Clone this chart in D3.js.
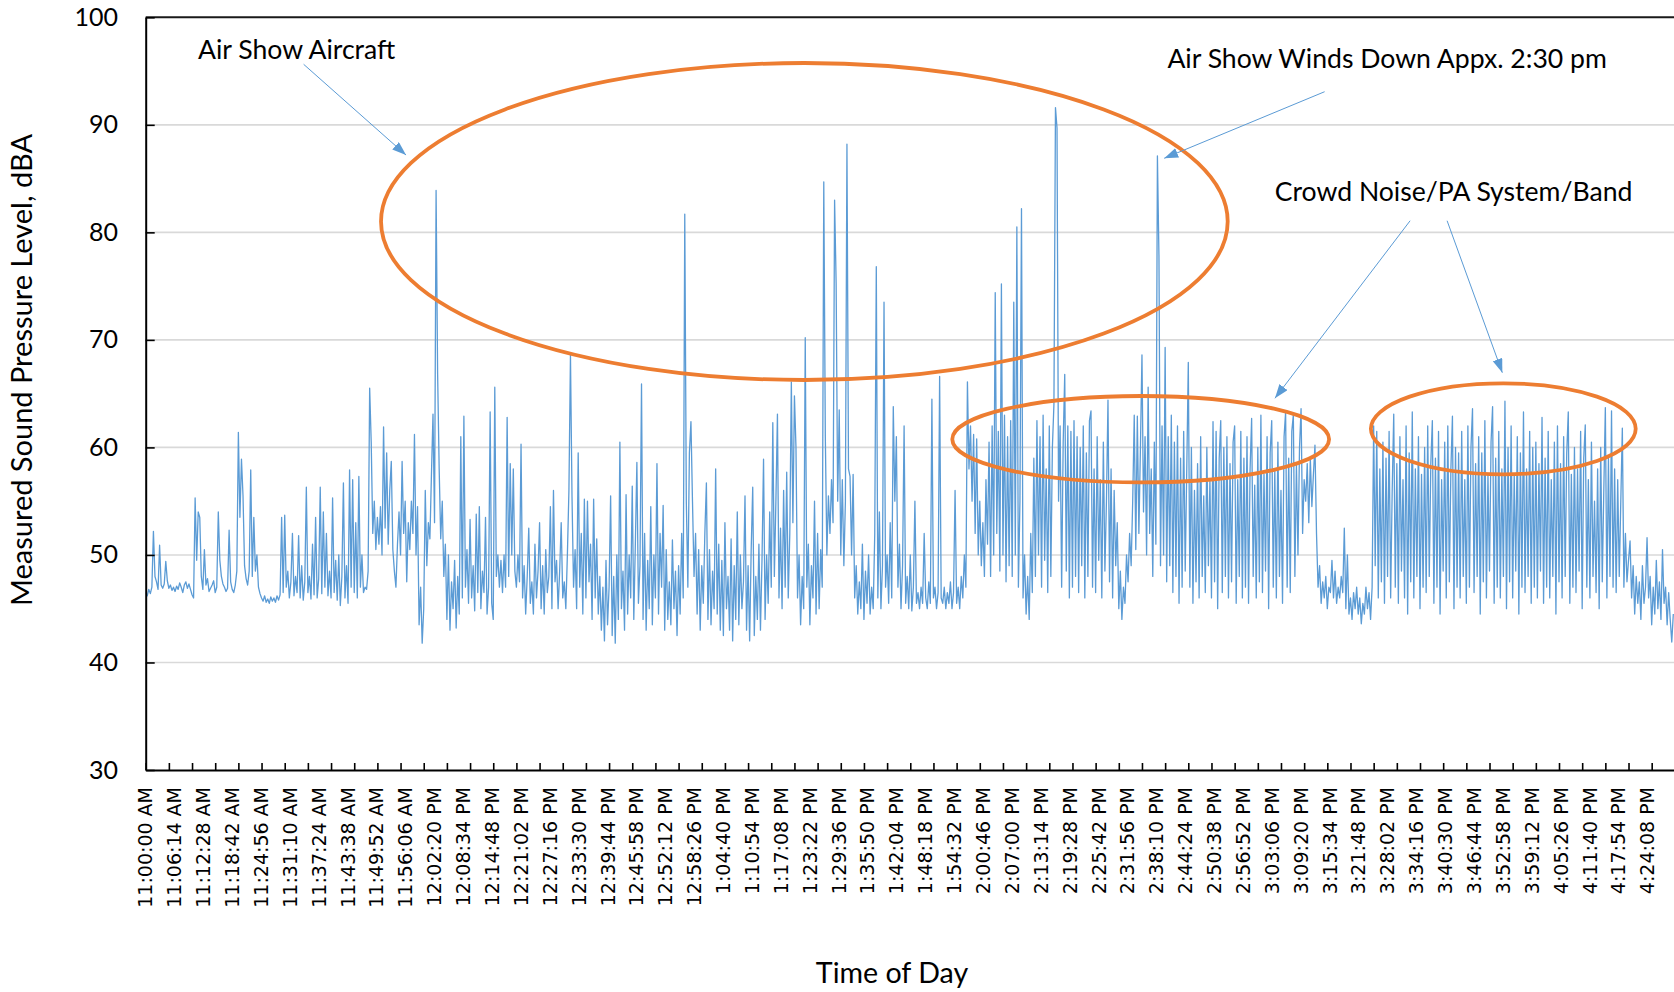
<!DOCTYPE html>
<html>
<head>
<meta charset="utf-8">
<script src="https://cdn.jsdelivr.net/npm/d3@7"></script>
<style>
  body { margin: 0; background: #fff; }
  svg { display: block; }
</style>
</head>
<body>
<svg></svg>
<script>
// readings every 20 s from 11:00:00 AM (dBA)
let startTime = '11:00:00 AM'
let endTime = '4:30:00 PM'
let stepSeconds = 20
let levels = [
  46.5,46.2,46.8,46.4,47.0,52.2,48.0,47.5,46.8,50.9, 47.2,46.9,47.3,49.4,47.6,46.9,47.2,46.7,47.0,46.6, 47.1,46.8,47.4,47.0,46.5,47.2,47.5,46.9,47.3,46.8, 46.3,46.0,55.3,49.5,54.0,53.5,48.0,46.8,50.5,47.2, 47.8,46.6,46.9,47.2,47.6,46.5,47.0,54.0,49.5,48.0,
  47.3,47.0,46.6,46.9,52.3,47.5,46.8,46.5,47.2,48.5, 61.4,53.5,58.9,55.5,49.0,47.8,47.2,48.5,57.9,48.0, 53.5,48.5,50.0,47.0,46.4,46.0,45.7,46.2,45.6,45.9, 45.5,46.1,45.7,46.0,45.6,46.2,45.8,46.3,53.5,46.5, 53.7,47.0,48.5,46.0,47.5,52.0,46.2,48.0,46.5,51.8,
  46.0,49.0,45.8,47.5,56.3,46.5,48.0,45.9,51.0,46.3, 53.5,46.0,47.8,56.3,46.4,54.0,47.0,52.0,46.2,48.5, 46.0,55.3,46.5,49.5,45.8,50.0,45.3,48.0,56.7,46.0, 49.0,45.5,57.9,47.0,57.0,46.5,53.0,46.0,57.3,47.0, 50.0,46.5,47.0,46.8,48.5,65.5,60.5,52.0,55.0,50.5,
  53.5,51.0,54.5,50.0,61.9,52.5,59.5,51.0,56.0,58.7, 50.5,48.5,47.0,51.0,54.0,50.0,58.7,52.0,55.0,47.5, 53.0,50.5,55.0,52.0,61.2,50.0,54.5,43.5,47.0,41.8, 45.0,56.0,49.0,53.0,51.5,57.5,63.1,53.0,83.9,66.8, 58.0,51.5,55.0,48.0,51.0,44.0,50.0,43.0,47.5,45.0,
  49.5,43.2,48.0,44.5,61.0,46.0,62.9,47.0,50.5,45.5, 53.3,46.0,49.0,44.8,53.8,46.5,54.5,45.0,48.5,46.5, 53.5,44.5,47.0,63.3,45.5,44.0,65.6,48.0,50.0,47.0, 49.5,46.5,50.0,47.0,62.8,48.0,58.5,50.0,58.0,48.5, 47.0,50.0,47.5,60.3,46.0,49.0,44.5,48.0,52.5,45.5,
  47.5,44.5,51.0,46.0,48.5,53.0,45.0,49.0,44.5,50.5, 46.5,48.0,54.5,45.0,56.0,47.5,49.5,45.0,48.5,53.0, 46.0,47.5,45.0,50.0,56.0,68.6,55.4,47.0,50.5,45.0, 59.5,47.0,52.0,44.5,55.2,46.0,55.0,47.5,51.0,44.0, 55.2,46.0,51.5,44.5,48.0,43.0,47.0,42.0,49.5,43.5,
  47.0,55.5,42.5,48.0,41.8,50.0,44.0,60.5,45.0,48.5, 43.0,55.6,44.5,50.0,46.0,56.4,44.0,51.0,58.6,45.5, 49.0,65.9,44.0,52.0,43.0,49.5,45.0,54.5,43.5,50.0, 46.0,58.5,44.5,52.0,47.0,54.6,43.0,50.5,44.0,47.5, 43.5,51.4,45.0,48.5,42.5,49.0,44.5,52.0,46.0,81.7,
  55.0,47.0,59.5,62.4,55.0,48.0,52.0,44.5,50.5,43.0, 49.0,45.5,52.0,56.7,44.0,50.5,43.5,48.5,45.0,58.0, 44.5,51.0,43.0,49.5,42.5,53.0,45.0,48.0,43.0,51.5, 42.0,49.0,44.0,54.0,43.5,50.0,45.0,47.5,55.5,43.0, 49.0,42.0,50.5,56.3,42.5,48.0,44.0,51.0,43.0,49.5,
  58.9,44.0,50.0,45.5,54.0,47.0,62.3,48.0,55.0,63.1, 46.0,52.5,45.0,56.0,47.0,57.7,46.0,52.0,66.1,53.0, 64.8,60.0,46.0,50.0,43.5,48.0,45.0,70.2,47.0,51.0, 43.5,49.0,46.0,55.0,44.5,52.0,45.0,50.5,47.0,84.7, 61.0,50.0,55.5,52.0,57.0,53.0,83.0,75.3,55.0,63.5,
  50.0,57.0,49.0,55.0,88.2,58.0,57.3,50.0,57.5,46.0, 49.0,44.5,47.5,45.0,51.0,44.0,48.5,45.5,50.0,44.5, 47.0,45.0,52.0,76.8,46.0,54.0,45.0,49.0,73.5,47.0, 50.0,45.5,53.0,46.0,63.8,55.0,61.0,47.0,51.0,45.0, 49.0,62.0,45.5,48.0,45.0,50.0,44.8,47.0,55.0,45.5,
  46.5,45.0,47.0,45.5,52.0,46.0,45.0,47.5,45.5,64.5, 46.0,47.0,45.0,46.5,66.6,46.0,45.5,47.0,45.0,46.5, 45.5,47.5,45.0,46.5,56.0,45.5,47.0,45.0,48.0,46.0, 50.0,47.0,66.1,58.0,62.0,55.0,61.2,52.0,60.8,50.0, 55.0,49.0,53.0,48.0,57.0,51.0,60.5,48.0,62.0,50.0,
  74.4,52.0,61.5,48.5,75.2,50.0,63.0,47.5,61.0,49.0, 62.5,48.0,73.5,50.0,80.5,47.0,55.0,82.2,46.0,50.0, 44.5,48.0,44.0,52.0,46.5,59.0,48.0,62.5,50.0,61.0, 47.0,63.0,49.5,58.0,46.5,62.0,48.0,60.0,64.0,91.6, 89.7,55.0,62.0,47.0,60.5,66.8,48.5,62.0,46.0,61.5,
  47.0,62.5,48.0,61.0,46.5,60.0,49.0,62.0,46.0,59.5, 48.0,62.5,63.4,47.0,58.0,46.5,61.0,49.5,57.0,46.0, 60.5,48.5,55.0,64.4,47.5,58.0,46.0,56.0,49.0,53.0, 45.0,48.5,44.0,47.0,45.5,50.0,47.5,52.0,49.0,55.0, 63.0,50.5,62.9,52.0,60.0,68.6,54.0,61.0,50.0,65.6,
  52.0,58.0,48.0,60.5,51.0,87.1,77.8,49.0,62.0,50.0, 69.3,47.5,61.0,49.0,63.0,46.5,60.5,48.0,62.0,45.5, 59.0,47.0,61.5,48.5,58.0,67.9,47.0,60.0,45.5,56.0, 47.5,58.5,46.0,61.0,48.0,55.5,46.5,60.0,49.0,57.0, 46.0,62.4,47.5,61.5,45.0,59.0,62.5,46.5,60.0,48.0,
  61.0,46.0,58.5,47.5,60.5,62.0,45.5,57.0,48.0,61.5, 46.0,59.0,47.0,61.0,45.5,58.0,62.7,48.0,56.5,46.0, 60.0,47.5,63.0,46.5,57.5,48.5,61.0,45.0,59.5,62.5, 47.0,58.0,46.0,60.5,48.0,56.0,45.5,61.0,63.3,47.0, 59.0,46.5,61.5,63.0,48.0,58.5,50.0,60.0,63.6,52.0,
  57.0,55.0,58.5,53.0,59.0,54.5,57.5,60.2,52.0,47.0, 49.0,45.5,47.5,46.0,48.0,45.0,47.0,46.5,49.5,46.0, 48.5,45.5,47.0,46.0,48.0,46.5,52.5,45.0,50.0,44.5, 46.0,44.0,46.5,45.0,47.0,44.5,46.0,43.6,45.5,44.5, 47.0,45.0,46.5,44.0,47.0,62.0,49.0,61.5,46.0,58.0,
  47.5,60.5,45.5,59.0,48.0,61.5,46.0,56.0,63.1,47.0, 58.5,45.5,61.0,48.5,57.0,46.0,62.0,44.5,59.5,47.5, 63.3,46.0,58.0,48.0,61.0,45.0,57.5,47.0,60.0,46.5, 62.0,48.0,58.5,62.5,45.5,59.0,47.0,61.5,44.5,57.0, 48.5,60.5,46.0,62.0,47.5,58.0,62.9,45.0,60.0,47.0,
  59.5,46.0,61.5,48.0,57.0,45.5,62.0,47.0,60.0,63.6, 46.5,58.5,48.0,61.0,44.5,59.5,47.5,62.5,46.0,57.5, 48.5,60.5,63.8,45.5,59.0,47.0,61.5,46.0,58.0,48.0, 64.3,45.0,60.0,47.5,62.0,46.0,57.5,48.5,61.0,44.5, 59.5,47.0,63.3,46.5,58.0,48.0,61.5,45.5,60.0,47.0,
  60.5,46.0,58.5,48.5,62.8,45.5,59.0,47.0,61.5,46.0, 57.0,48.0,60.5,44.5,62.0,47.5,58.5,46.0,61.0,48.0, 59.5,63.3,45.5,57.5,47.0,60.0,46.5,58.0,48.5,61.5, 45.0,59.0,62.1,47.0,57.0,46.0,60.5,48.0,55.0,46.5, 58.0,45.0,60.0,47.5,56.0,63.7,46.0,59.0,48.0,63.4,
  47.0,58.0,46.5,57.0,48.0,55.0,61.8,47.0,52.0,47.5, 49.5,51.3,46.0,49.0,44.5,48.0,45.5,47.5,44.0,49.0, 45.5,47.0,51.6,46.0,48.0,43.5,47.0,44.5,49.5,45.0, 47.5,44.0,50.5,45.5,47.0,43.5,46.5,44.0,41.9,44.5
]

let yTicks = [30, 40, 50, 60, 70, 80, 90, 100]
let tickEverySeconds = 300
let timeLabels = [
  '11:00:00 AM','11:06:14 AM','11:12:28 AM','11:18:42 AM','11:24:56 AM','11:31:10 AM','11:37:24 AM',
  '11:43:38 AM','11:49:52 AM','11:56:06 AM','12:02:20 PM','12:08:34 PM','12:14:48 PM','12:21:02 PM',
  '12:27:16 PM','12:33:30 PM','12:39:44 PM','12:45:58 PM','12:52:12 PM','12:58:26 PM','1:04:40 PM',
  '1:10:54 PM','1:17:08 PM','1:23:22 PM','1:29:36 PM','1:35:50 PM','1:42:04 PM','1:48:18 PM',
  '1:54:32 PM','2:00:46 PM','2:07:00 PM','2:13:14 PM','2:19:28 PM','2:25:42 PM','2:31:56 PM',
  '2:38:10 PM','2:44:24 PM','2:50:38 PM','2:56:52 PM','3:03:06 PM','3:09:20 PM','3:15:34 PM',
  '3:21:48 PM','3:28:02 PM','3:34:16 PM','3:40:30 PM','3:46:44 PM','3:52:58 PM','3:59:12 PM',
  '4:05:26 PM','4:11:40 PM','4:17:54 PM','4:24:08 PM'
]

// callouts, in chart units (time of day, dBA)
let ellipses = [
  { from: '11:50:47 AM', to: '2:53:30 PM', low: 66.27, high: 95.75 },
  { from: '1:54:04 PM', to: '3:15:23 PM', low: 56.74, high: 64.78 },
  { from: '3:24:24 PM', to: '4:21:33 PM', low: 57.5, high: 65.96 }
]
let notes = [
  { text: 'Air Show Aircraft', time: '11:11:17 AM', level: 96.1 },
  { text: 'Air Show Winds Down Appx. 2:30 pm', time: '2:40:29 PM', level: 95.26 },
  { text: 'Crowd Noise/PA System/Band', time: '3:03:40 PM', level: 82.94 }
]
let arrows = [
  { t1: '11:34:05 AM', v1: 95.63, t2: '11:56:11 AM', v2: 87.19 },
  { t1: '3:14:25 PM', v1: 93.08, t2: '2:39:48 PM', v2: 86.89 },
  { t1: '3:32:52 PM', v1: 81.08, t2: '3:03:42 PM', v2: 64.57 },
  { t1: '3:40:51 PM', v1: 81.08, t2: '3:52:46 PM', v2: 66.95 }
]

let width = 1674
let height = 992
let plotLeft = 145.7
let plotTop = 17.3
let plotBottom = 770
let pxPerSecond = 0.07723

let blue = '#5B9BD5'
let orange = '#ED7D31'
let calibri = 'Lato, "Open Sans", sans-serif'

let parseTime = d3.timeParse('%I:%M:%S %p')
let tStart = parseTime(startTime)
let tEnd = parseTime(endTime)

let data = levels.map((v, i) => ({ time: d3.timeSecond.offset(tStart, i * stepSeconds), level: v }))

let svg = d3.select('svg').attr('width', width).attr('height', height)

let xScale = d3.scaleTime()
  .domain([tStart, tEnd])
  .range([plotLeft, plotLeft + (tEnd - tStart) / 1000 * pxPerSecond])
let yScale = d3.scaleLinear().domain([30, 100]).range([plotBottom, plotTop])
let plotRight = xScale(tEnd)

// gridlines
svg.append('g')
  .selectAll('line')
  .data(yTicks.filter(d => d > 30 && d < 100))
  .enter()
  .append('line')
  .attr('x1', plotLeft).attr('x2', plotRight)
  .attr('y1', d => yScale(d)).attr('y2', d => yScale(d))
  .attr('stroke', '#d9d9d9')
  .attr('stroke-width', 1.6)

svg.append('clipPath').attr('id', 'plot')
  .append('rect')
  .attr('x', plotLeft).attr('y', plotTop)
  .attr('width', plotRight - plotLeft).attr('height', plotBottom - plotTop)

let line = d3.line()
  .x(d => xScale(d.time))
  .y(d => yScale(d.level))

svg.append('path')
  .datum(data)
  .attr('clip-path', 'url(#plot)')
  .attr('d', line)
  .attr('fill', 'none')
  .attr('stroke', blue)
  .attr('stroke-width', 1.3)
  .attr('stroke-linejoin', 'round')

// top border of the plot area
svg.append('line')
  .attr('x1', plotLeft).attr('x2', plotRight)
  .attr('y1', yScale(100)).attr('y2', yScale(100))
  .attr('stroke', '#1a1a1a')
  .attr('stroke-width', 2)

// y axis
let yAxis = d3.axisLeft(yScale)
  .tickValues(yTicks)
  .tickSizeInner(-9)
  .tickSizeOuter(0)
  .tickPadding(27.7)
let yG = svg.append('g')
  .attr('transform', 'translate(' + plotLeft + ',0)')
  .call(yAxis)
yG.select('.domain').attr('stroke', '#000').attr('stroke-width', 2)
yG.selectAll('.tick line').attr('stroke', '#000').attr('stroke-width', 1.6)
yG.selectAll('.tick text')
  .attr('font-family', calibri)
  .attr('font-size', 25)
  .attr('fill', '#000')

// x axis: ticks every 5 minutes, labels every 6:14
let tickTimes = d3.range(0, (tEnd - tStart) / 1000, tickEverySeconds).map(s => d3.timeSecond.offset(tStart, s))
let xAxis = d3.axisBottom(xScale)
  .tickValues(tickTimes)
  .tickSizeInner(-7)
  .tickSizeOuter(0)
  .tickFormat('')
let xG = svg.append('g')
  .attr('transform', 'translate(0,' + plotBottom + ')')
  .call(xAxis)
xG.select('.domain').attr('stroke', '#000').attr('stroke-width', 2)
xG.selectAll('.tick line').attr('stroke', '#000').attr('stroke-width', 1.6)

svg.append('g')
  .selectAll('text')
  .data(timeLabels)
  .enter()
  .append('text')
  .attr('transform', d => 'translate(' + xScale(parseTime(d)) + ',787) rotate(-90)')
  .attr('dy', '0.35em')
  .attr('text-anchor', 'end')
  .attr('font-family', '"DejaVu Sans", sans-serif')
  .attr('font-size', 19)
  .attr('fill', '#000')
  .text(d => d)

// axis titles
svg.append('text')
  .attr('transform', 'translate(32,' + yScale(67.2) + ') rotate(-90)')
  .attr('text-anchor', 'middle')
  .attr('font-family', calibri)
  .attr('font-size', 29)
  .attr('fill', '#000')
  .text('Measured Sound Pressure Level, dBA')

svg.append('text')
  .attr('x', 892)
  .attr('y', 983)
  .attr('text-anchor', 'middle')
  .attr('font-family', calibri)
  .attr('font-size', 28.6)
  .attr('fill', '#000')
  .text('Time of Day')

// callouts
svg.append('g')
  .selectAll('ellipse')
  .data(ellipses)
  .enter()
  .append('ellipse')
  .attr('cx', d => (xScale(parseTime(d.from)) + xScale(parseTime(d.to))) / 2)
  .attr('cy', d => (yScale(d.low) + yScale(d.high)) / 2)
  .attr('rx', d => (xScale(parseTime(d.to)) - xScale(parseTime(d.from))) / 2)
  .attr('ry', d => (yScale(d.low) - yScale(d.high)) / 2)
  .attr('fill', 'none')
  .attr('stroke', orange)
  .attr('stroke-width', 3.8)

svg.append('defs')
  .append('marker')
  .attr('id', 'head')
  .attr('markerUnits', 'userSpaceOnUse')
  .attr('markerWidth', 15)
  .attr('markerHeight', 11)
  .attr('refX', 14)
  .attr('refY', 5)
  .attr('orient', 'auto')
  .append('path')
  .attr('d', 'M0,0 L14,5 L0,10 Z')
  .attr('fill', blue)

svg.append('g')
  .selectAll('line')
  .data(arrows)
  .enter()
  .append('line')
  .attr('x1', d => xScale(parseTime(d.t1)))
  .attr('y1', d => yScale(d.v1))
  .attr('x2', d => xScale(parseTime(d.t2)))
  .attr('y2', d => yScale(d.v2))
  .attr('stroke', blue)
  .attr('stroke-width', 1)
  .attr('marker-end', 'url(#head)')

svg.append('g')
  .selectAll('text')
  .data(notes)
  .enter()
  .append('text')
  .attr('x', d => xScale(parseTime(d.time)))
  .attr('y', d => yScale(d.level))
  .attr('font-family', calibri)
  .attr('font-size', 26.6)
  .attr('fill', '#000')
  .text(d => d.text)
</script>
</body>
</html>
